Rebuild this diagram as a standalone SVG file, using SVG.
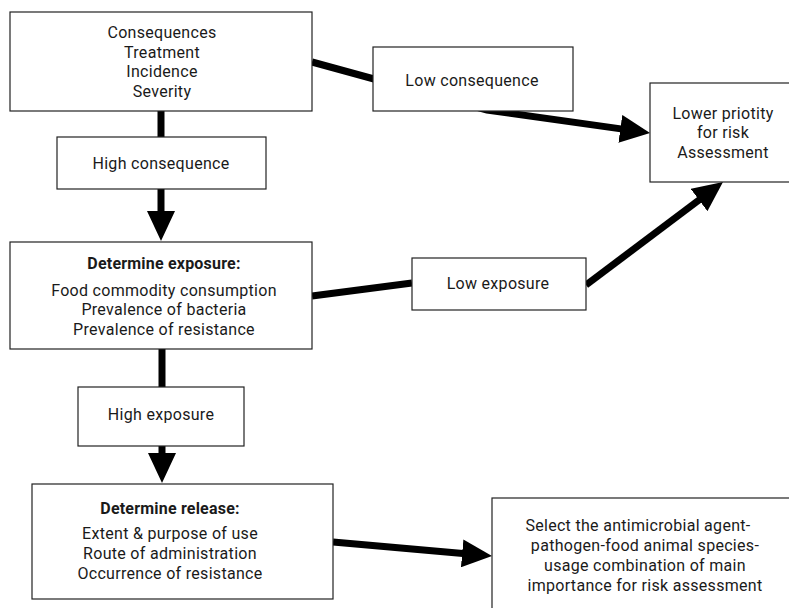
<svg xmlns="http://www.w3.org/2000/svg" width="789" height="608" viewBox="0 0 789 608">
<style>
.box{fill:#fff;stroke:#222;stroke-width:1.2}
.t{font-family:Roboto,"Liberation Sans",sans-serif;font-size:16px;letter-spacing:0.3px;fill:#1a1a1a;text-anchor:middle}
.b{font-weight:bold;letter-spacing:0.2px}
.c{fill:none;stroke:#000;stroke-width:7;stroke-linejoin:miter}
</style>
<defs>
<marker id="ah" markerUnits="userSpaceOnUse" viewBox="0 0 30 28" markerWidth="30" markerHeight="28" refX="15" refY="14" orient="auto">
<path d="M0,0 L30,14 L0,28 Z" fill="#000"/>
</marker>
</defs>
<rect width="789" height="608" fill="#fff"/>
<g id="connectors">
<path class="c" d="M161,111 L161,226" marker-end="url(#ah)"/>
<path class="c" d="M312,62 L487,110 L635.2,130.9" marker-end="url(#ah)"/>
<path class="c" d="M312,296 L412,283"/>
<path class="c" d="M586,285 L711,191" marker-end="url(#ah)"/>
<path class="c" d="M162,349 L162,468" marker-end="url(#ah)"/>
<path class="c" d="M333,542 L477.1,554.7" marker-end="url(#ah)"/>
</g>
<g id="consequences">
<rect class="box" x="10" y="12" width="302" height="99"/>
<text class="t" x="162" y="37.5">Consequences</text>
<text class="t" x="162" y="57.5">Treatment</text>
<text class="t" x="162" y="76.5">Incidence</text>
<text class="t" x="162" y="96.5">Severity</text>
</g>
<g id="high-consequence">
<rect class="box" x="57" y="137" width="209" height="52"/>
<text class="t" x="161" y="168.5">High consequence</text>
</g>
<g id="low-consequence">
<rect class="box" x="373" y="47" width="200" height="64"/>
<text class="t" x="472" y="85.5">Low consequence</text>
</g>
<g id="lower-priority">
<rect class="box" x="650" y="83" width="145" height="99"/>
<text class="t" x="723" y="118.5">Lower priotity</text>
<text class="t" x="723" y="138">for risk</text>
<text class="t" x="723" y="157.5">Assessment</text>
</g>
<g id="determine-exposure">
<rect class="box" x="10" y="242" width="302" height="107"/>
<text class="t b" x="164" y="268.5">Determine exposure:</text>
<text class="t" x="164" y="295.5">Food commodity consumption</text>
<text class="t" x="164" y="315">Prevalence of bacteria</text>
<text class="t" x="164" y="334.5">Prevalence of resistance</text>
</g>
<g id="low-exposure">
<rect class="box" x="412" y="258" width="174" height="52"/>
<text class="t" x="498" y="288.5">Low exposure</text>
</g>
<g id="high-exposure">
<rect class="box" x="78" y="387" width="166" height="59"/>
<text class="t" x="161" y="419.5">High exposure</text>
</g>
<g id="determine-release">
<rect class="box" x="32" y="484" width="301" height="115"/>
<text class="t b" x="170" y="513.5">Determine release:</text>
<text class="t" x="170" y="538.5">Extent &amp; purpose of use</text>
<text class="t" x="170" y="558.5">Route of administration</text>
<text class="t" x="170" y="578.5">Occurrence of resistance</text>
</g>
<g id="select-combination">
<rect class="box" x="492" y="498" width="305" height="120"/>
<text class="t" x="638" y="530.5">Select the antimicrobial agent-</text>
<text class="t" x="645" y="550.5">pathogen-food animal species-</text>
<text class="t" x="645" y="570.5">usage combination of main</text>
<text class="t" x="645" y="590.5">importance for risk assessment</text>
</g>
</svg>
